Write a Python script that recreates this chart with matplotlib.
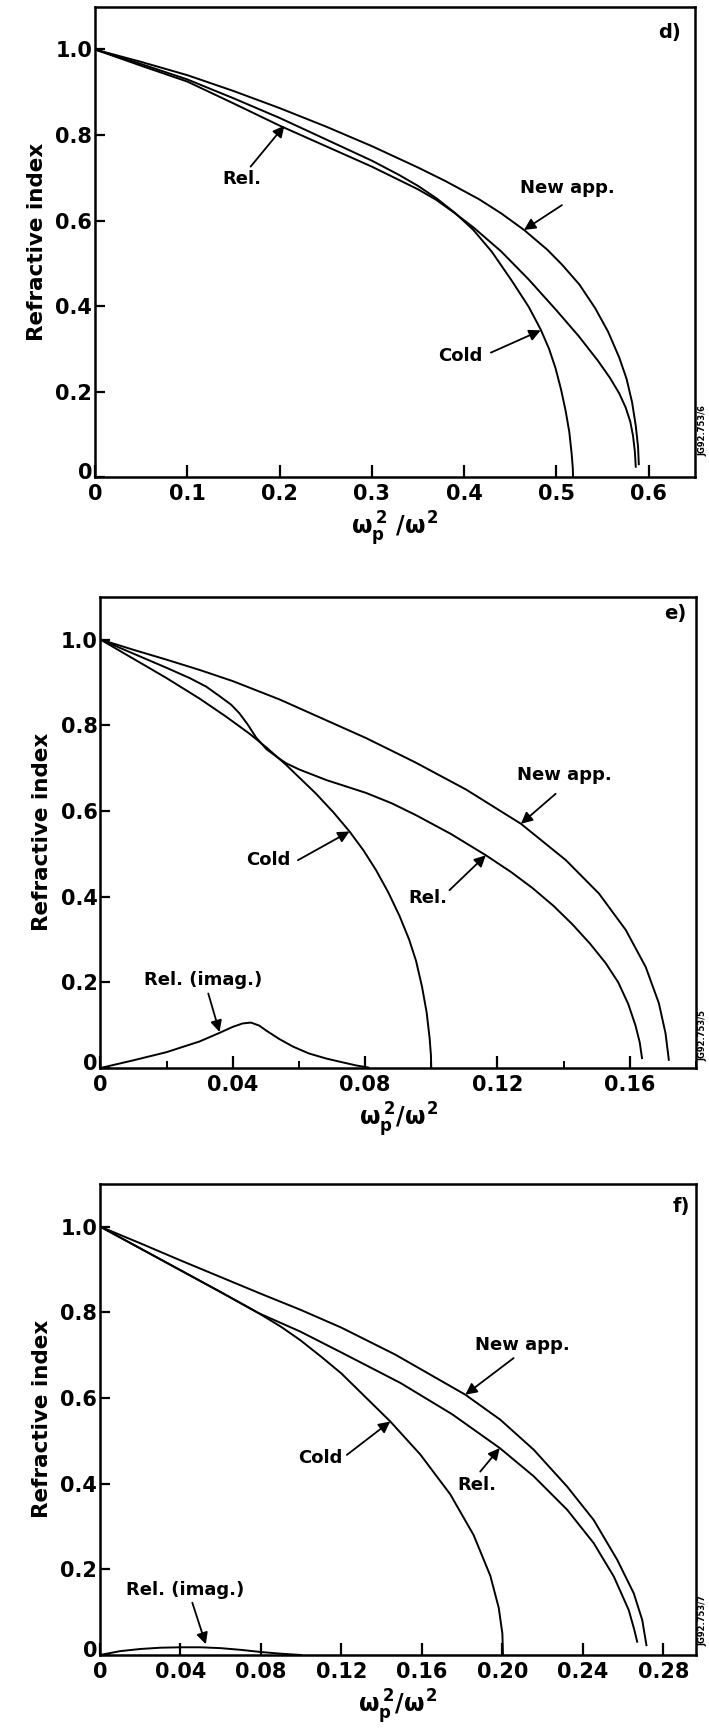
import matplotlib
matplotlib.use("Agg")
import matplotlib.pyplot as plt
import matplotlib.transforms as mtransforms
from matplotlib.ticker import MultipleLocator

plt.rcParams['font.family'] = ['DejaVu Sans']
plt.rcParams['font.weight'] = 'bold'
plt.rcParams['axes.labelweight'] = 'bold'
plt.rcParams['mathtext.fontset'] = 'custom'
plt.rcParams['mathtext.rm'] = 'DejaVu Sans:bold'
plt.rcParams['mathtext.it'] = 'DejaVu Sans:bold'
plt.rcParams['mathtext.bf'] = 'DejaVu Sans:bold'

# ---- panel d) ----
d_cold_x = [0, 0.05, 0.10, 0.15, 0.20, 0.25, 0.30, 0.33, 0.35, 0.37, 0.39, 0.41, 0.43, 0.452,
            0.47, 0.483, 0.492, 0.499, 0.505, 0.510, 0.514, 0.5165, 0.5178, 0.518]
d_cold_n = [1.0, 0.966, 0.93, 0.886, 0.84, 0.79, 0.74, 0.706, 0.681, 0.652, 0.618, 0.578, 0.527, 0.458,
            0.398, 0.345, 0.30, 0.255, 0.205, 0.155, 0.105, 0.055, 0.02, 0.0]
d_rel_x = [0, 0.05, 0.10, 0.15, 0.20, 0.25, 0.30, 0.35, 0.37, 0.39, 0.41, 0.44, 0.47, 0.50,
           0.524, 0.545, 0.558, 0.568, 0.575, 0.58, 0.583, 0.585, 0.586]
d_rel_n = [1.0, 0.962, 0.925, 0.874, 0.822, 0.774, 0.726, 0.673, 0.648, 0.617, 0.584, 0.528, 0.462, 0.39,
           0.33, 0.272, 0.232, 0.196, 0.163, 0.13, 0.097, 0.06, 0.024]
d_new_x = [0, 0.05, 0.10, 0.15, 0.20, 0.25, 0.30, 0.35, 0.38, 0.416, 0.44, 0.4649, 0.49, 0.506,
           0.525, 0.542, 0.556, 0.568, 0.576, 0.582, 0.586, 0.5885, 0.5893]
d_new_n = [1.0, 0.971, 0.94, 0.903, 0.863, 0.82, 0.774, 0.724, 0.692, 0.65, 0.617, 0.578, 0.532, 0.497,
           0.45, 0.395, 0.34, 0.28, 0.23, 0.175, 0.12, 0.07, 0.03]
d_xticks = [0, 0.1, 0.2, 0.3, 0.4, 0.5, 0.6]
d_xticklabels = ["0", "0.1", "0.2", "0.3", "0.4", "0.5", "0.6"]

# ---- panel e) ----
e_new_x = [0, 0.01, 0.02, 0.03, 0.04, 0.0542, 0.0803, 0.095, 0.1105, 0.1271, 0.1407, 0.1507,
           0.1588, 0.1648, 0.1688, 0.1708, 0.1718]
e_new_n = [1.0, 0.976, 0.953, 0.929, 0.903, 0.86, 0.77, 0.714, 0.65, 0.57, 0.485, 0.407,
           0.322, 0.236, 0.151, 0.081, 0.019]
e_rel_x = [0, 0.01, 0.02, 0.027, 0.032, 0.036, 0.0395, 0.042, 0.0445, 0.047, 0.0502, 0.0535,
           0.0562, 0.06, 0.0683, 0.0803, 0.088, 0.0954, 0.106, 0.1165, 0.124, 0.1306, 0.137,
           0.1427, 0.148, 0.1527, 0.1565, 0.1595, 0.1617, 0.163, 0.1637]
e_rel_n = [1.0, 0.967, 0.934, 0.91, 0.89, 0.868, 0.848, 0.828, 0.802, 0.772, 0.744, 0.725,
           0.711, 0.697, 0.672, 0.642, 0.618, 0.59, 0.546, 0.4965, 0.458, 0.42, 0.378,
           0.335, 0.29, 0.245, 0.2, 0.15, 0.1, 0.06, 0.023]
e_cold_x = [0, 0.01, 0.02, 0.03, 0.038, 0.0451, 0.0502, 0.0562, 0.0652, 0.0705, 0.0753, 0.0795,
            0.0833, 0.087, 0.0904, 0.0933, 0.0954, 0.0972, 0.0986, 0.0995, 0.0999, 0.1]
e_cold_n = [1.0, 0.955, 0.91, 0.862, 0.82, 0.78, 0.748, 0.707, 0.64, 0.596, 0.552, 0.508,
            0.462, 0.41, 0.355, 0.30, 0.25, 0.19, 0.13, 0.07, 0.03, 0.0]
e_imag_x = [0, 0.01, 0.02, 0.03, 0.036, 0.04, 0.043, 0.0455, 0.048, 0.0502, 0.054, 0.0582,
            0.063, 0.0683, 0.0733, 0.0773, 0.081]
e_imag_n = [0, 0.018, 0.037, 0.062, 0.082, 0.096, 0.104, 0.106, 0.099, 0.087, 0.068, 0.05,
            0.034, 0.022, 0.013, 0.006, 0.001]
e_xticks = [0, 0.04, 0.08, 0.12, 0.16]
e_xticklabels = ["0", "0.04", "0.08", "0.12", "0.16"]

# ---- panel f) ----
f_new_x = [0, 0.02, 0.04, 0.06, 0.08, 0.0995, 0.12, 0.1468, 0.1816, 0.199, 0.2156, 0.2322,
           0.2454, 0.2571, 0.2653, 0.2695, 0.2716]
f_new_n = [1.0, 0.961, 0.921, 0.882, 0.843, 0.806, 0.764, 0.701, 0.6075, 0.549, 0.479, 0.393,
           0.315, 0.222, 0.144, 0.082, 0.023]
f_rel_x = [0, 0.02, 0.04, 0.06, 0.0788, 0.0995, 0.12, 0.1493, 0.175, 0.1987, 0.2156, 0.2322,
           0.2454, 0.2554, 0.2628, 0.2655, 0.267]
f_rel_n = [1.0, 0.949, 0.898, 0.847, 0.798, 0.755, 0.706, 0.635, 0.562, 0.483, 0.417, 0.339,
           0.261, 0.183, 0.105, 0.06, 0.031]
f_cold_x = [0, 0.02, 0.04, 0.06, 0.0788, 0.09, 0.0995, 0.11, 0.12, 0.1443, 0.1592, 0.1741,
            0.1857, 0.194, 0.1982, 0.2, 0.2003]
f_cold_n = [1.0, 0.949, 0.898, 0.847, 0.798, 0.766, 0.735, 0.696, 0.657, 0.545, 0.468, 0.375,
            0.28, 0.185, 0.11, 0.05, 0.0]
f_imag_x = [0, 0.01, 0.02, 0.03, 0.04, 0.05, 0.06, 0.07, 0.08, 0.09, 0.1]
f_imag_n = [0, 0.009, 0.014, 0.017, 0.018, 0.018, 0.016, 0.012, 0.007, 0.003, 0.0]
f_xticks = [0, 0.04, 0.08, 0.12, 0.16, 0.20, 0.24, 0.28]
f_xticklabels = ["0", "0.04", "0.08", "0.12", "0.16", "0.20", "0.24", "0.28"]

yticks = [0, 0.2, 0.4, 0.6, 0.8, 1.0]
yticklabels = ["0", "0.2", "0.4", "0.6", "0.8", "1.0"]


def note(ax, text, text_xy, tail, head):
    ax.text(text_xy[0], text_xy[1], text, fontsize=13, ha="center", va="center")
    ax.annotate("", xy=head, xytext=tail,
                arrowprops=dict(arrowstyle="-|>", color="black", lw=1.3,
                                mutation_scale=17, shrinkA=0, shrinkB=0))


def setup(fig, ax, xlim, xticks, xticklabels, xlabel, tag, tag_xy, minor=None):
    ax.set_xlim(*xlim)
    ax.set_ylim(0, 1.1)
    ax.set_xticks(xticks)
    ax.set_xticklabels(xticklabels)
    ax.set_yticks(yticks)
    ax.set_yticklabels(yticklabels)
    if minor:
        ax.xaxis.set_minor_locator(MultipleLocator(minor))
    ax.tick_params(axis="x", direction="in", length=9, width=1.6, labelsize=15, pad=5)
    ax.tick_params(axis="x", which="minor", direction="in", length=5, width=1.4)
    ax.tick_params(axis="y", direction="in", length=7, width=1.6, labelsize=15, pad=2)
    for s in ax.spines.values():
        s.set_linewidth(1.8)
    # lift the "0" of the y axis a little, as in the original
    lab = ax.get_yticklabels()[0]
    lab.set_transform(lab.get_transform()
                      + mtransforms.ScaledTranslation(0, 4 / 72, fig.dpi_scale_trans))
    ax.set_xlabel(xlabel, fontsize=17, labelpad=4)
    ax.set_ylabel("Refractive index", fontsize=15.5, labelpad=6)
    ax.text(tag_xy[0], tag_xy[1], tag, fontsize=14, ha="center", va="center")


fig = plt.figure(figsize=(7.09, 17.29), dpi=100)
lw = 1.4

# d)
ax = fig.add_axes([0.134, 0.7241, 0.846, 0.272])
ax.plot(d_cold_x, d_cold_n, color="black", lw=lw)
ax.plot(d_rel_x, d_rel_n, color="black", lw=lw)
ax.plot(d_new_x, d_new_n, color="black", lw=lw)
setup(fig, ax, (0, 0.65), d_xticks, d_xticklabels, r"$\omega_p^{\,2}\ /\omega^2$", "d)", (0.623, 1.04))
note(ax, "Rel.", (0.159, 0.696), (0.1686, 0.726), (0.2053, 0.822))
note(ax, "New app.", (0.512, 0.675), (0.506, 0.636), (0.4649, 0.578))
note(ax, "Cold", (0.396, 0.283), (0.429, 0.291), (0.483, 0.343))

# e)
ax = fig.add_axes([0.1416, 0.3823, 0.840, 0.2726])
ax.plot(e_new_x, e_new_n, color="black", lw=lw)
ax.plot(e_rel_x, e_rel_n, color="black", lw=lw)
ax.plot(e_cold_x, e_cold_n, color="black", lw=lw)
ax.plot(e_imag_x, e_imag_n, color="black", lw=lw)
setup(fig, ax, (0, 0.18), e_xticks, e_xticklabels, r"$\omega_p^{\,2}/\omega^2$", "e)", (0.1736, 1.06), minor=0.02)
note(ax, "New app.", (0.1401, 0.683), (0.1376, 0.64), (0.1271, 0.570))
note(ax, "Cold", (0.0507, 0.485), (0.0597, 0.485), (0.0753, 0.552))
note(ax, "Rel.", (0.0989, 0.396), (0.1055, 0.415), (0.1165, 0.4965))
note(ax, "Rel. (imag.)", (0.0311, 0.206), (0.0326, 0.174), (0.036, 0.084))

# f)
ax = fig.add_axes([0.141, 0.0428, 0.840, 0.2726])
ax.plot(f_new_x, f_new_n, color="black", lw=lw)
ax.plot(f_rel_x, f_rel_n, color="black", lw=lw)
ax.plot(f_cold_x, f_cold_n, color="black", lw=lw)
ax.plot(f_imag_x, f_imag_n, color="black", lw=lw)
setup(fig, ax, (0, 0.296), f_xticks, f_xticklabels, r"$\omega_p^{\,2}/\omega^2$", "f)", (0.2888, 1.046))
note(ax, "New app.", (0.2098, 0.724), (0.2056, 0.693), (0.1816, 0.6075))
note(ax, "Cold", (0.1095, 0.46), (0.1227, 0.467), (0.1443, 0.545))
note(ax, "Rel.", (0.1874, 0.397), (0.189, 0.428), (0.1987, 0.483))
note(ax, "Rel. (imag.)", (0.0425, 0.152), (0.0459, 0.122), (0.0526, 0.025))

# small figure codes on the right edge
fig.text(0.991, 0.751, "JG92.753/6", rotation=90, fontsize=6, ha="center", va="center")
fig.text(0.991, 0.401, "JG92.753/5", rotation=90, fontsize=6, ha="center", va="center")
fig.text(0.991, 0.063, "JG92.753/7", rotation=90, fontsize=6, ha="center", va="center")

fig.savefig("out.png", dpi=100)
